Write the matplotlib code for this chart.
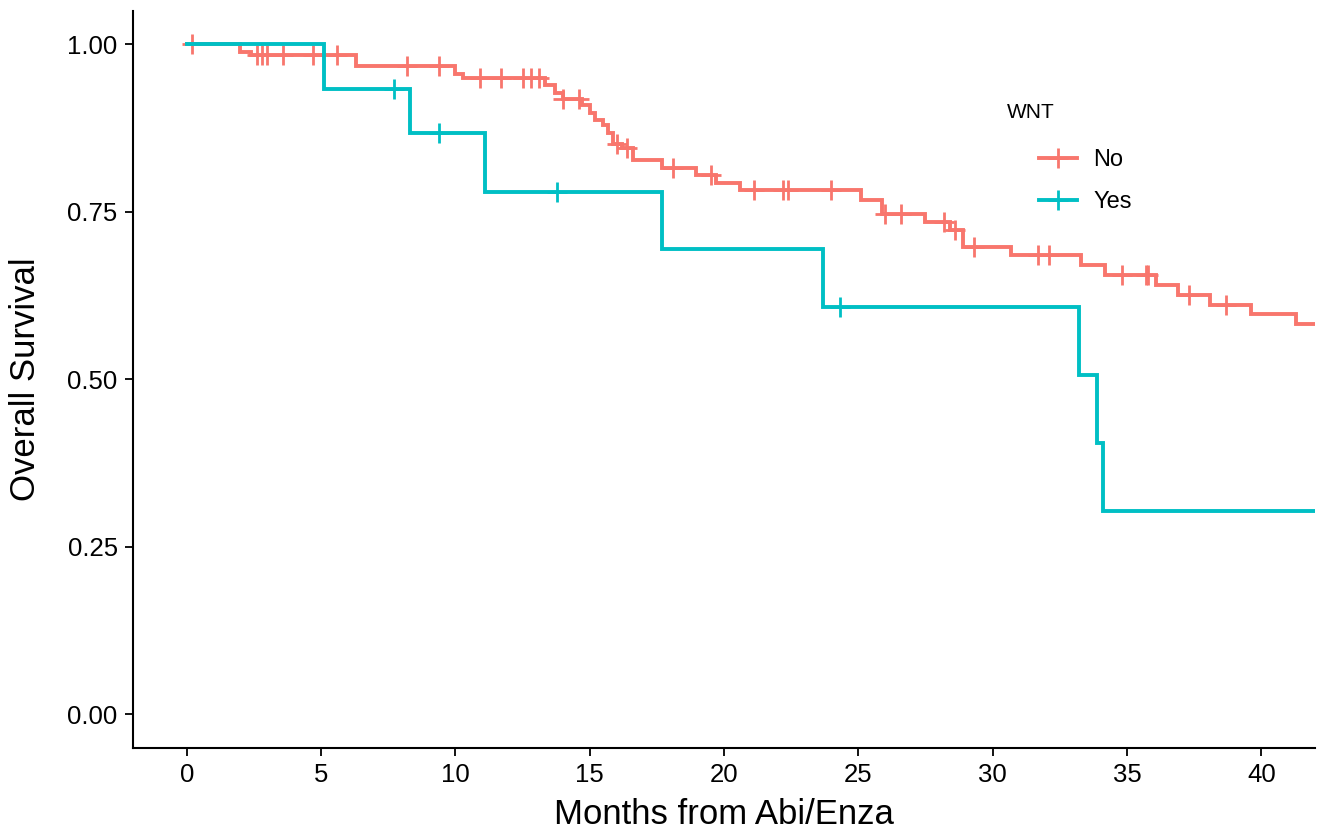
import numpy as np
import matplotlib
matplotlib.use("Agg")
import matplotlib.pyplot as plt
from matplotlib.lines import Line2D

# Kaplan-Meier steps
no_times = [0, 2.0, 2.4, 6.3, 10.0, 10.3, 13.35, 13.7, 14.0, 14.7, 15.0, 15.2, 15.5,
            15.7, 15.85, 16.2, 16.6, 17.7, 18.95, 19.7, 20.6, 25.1, 25.9, 27.5, 28.4,
            28.9, 30.7, 33.3, 34.2, 36.1, 36.9, 38.1, 39.6, 41.3]
no_surv = [1.0, 0.988, 0.983, 0.967, 0.955, 0.949, 0.939, 0.927, 0.918, 0.909, 0.897,
           0.887, 0.879, 0.867, 0.851, 0.845, 0.827, 0.815, 0.805, 0.793, 0.783, 0.768,
           0.747, 0.735, 0.723, 0.698, 0.685, 0.670, 0.656, 0.641, 0.626, 0.611, 0.597,
           0.582]
no_censor = [0.2, 2.6, 2.8, 3.0, 3.6, 4.7, 5.6, 8.2, 9.4, 10.9, 11.7, 12.5, 12.8, 13.1,
             14.0, 14.6, 16.0, 16.4, 18.1, 19.5, 21.1, 22.2, 22.4, 24.0, 26.0, 26.6,
             28.2, 28.6, 29.3, 31.7, 32.1, 34.8, 35.7, 35.8, 37.3, 38.7]

yes_times = [0, 5.1, 8.3, 11.1, 17.7, 23.7, 33.2, 33.9, 34.1]
yes_surv = [1.0, 0.933, 0.867, 0.78, 0.695, 0.608, 0.506, 0.405, 0.304]
yes_censor = [7.7, 9.4, 13.8, 24.3]

groups = ["No", "Yes"]
colors = ["#F8766D", "#00BFC4"]
t_end = 44


def surv_at(times, surv, t):
    i = np.searchsorted(times, t, side="right") - 1
    return np.array(surv)[i]


plt.rcParams["font.family"] = ["Liberation Sans", "DejaVu Sans"]
fig = plt.figure(figsize=(13.26, 8.38), dpi=100)
ax = fig.add_axes([0.1003, 0.1074, 0.8914, 0.88])

data = [(no_times, no_surv, no_censor), (yes_times, yes_surv, yes_censor)]
for (times, surv, cens), col in zip(data, colors):
    x = list(times) + [t_end]
    y = list(surv) + [surv[-1]]
    ax.step(x, y, where="post", color=col, lw=2.8, solid_joinstyle="miter")
    cens = np.array(cens)
    ax.plot(cens, surv_at(times, surv, cens), ls="none", marker="+", ms=14,
            mew=2, color=col)

ax.set_xlim(-2, 42)
ax.set_ylim(-0.05, 1.05)
ax.set_xticks(range(0, 41, 5))
ax.set_yticks([0, 0.25, 0.5, 0.75, 1.0])
ax.set_yticklabels(["0.00", "0.25", "0.50", "0.75", "1.00"])
ax.tick_params(labelsize=18.5, length=6, width=1.3, colors="black", pad=5)
for s in ["top", "right"]:
    ax.spines[s].set_visible(False)
for s in ["left", "bottom"]:
    ax.spines[s].set_linewidth(1.5)

ax.set_xlabel("Months from Abi/Enza", fontsize=25, labelpad=8)
ax.set_ylabel("Overall Survival", fontsize=25, labelpad=18)

# legend: title placed by hand, keys indented as in the original
fig.text(1007 / 1326, 1 - 113 / 838, "WNT", fontsize=15, va="center", ha="left")
handles = [Line2D([], [], color=c, lw=2.8, marker="+", ms=14, mew=2) for c in colors]
ax.legend(handles, groups, loc="upper left",
          bbox_to_anchor=(1027 / 1326, 1 - 137 / 838),
          bbox_transform=fig.transFigure, frameon=False, fontsize=17,
          handlelength=1.6, labelspacing=0.85, borderpad=0, handletextpad=0.7)

fig.savefig("out.png", dpi=100)
